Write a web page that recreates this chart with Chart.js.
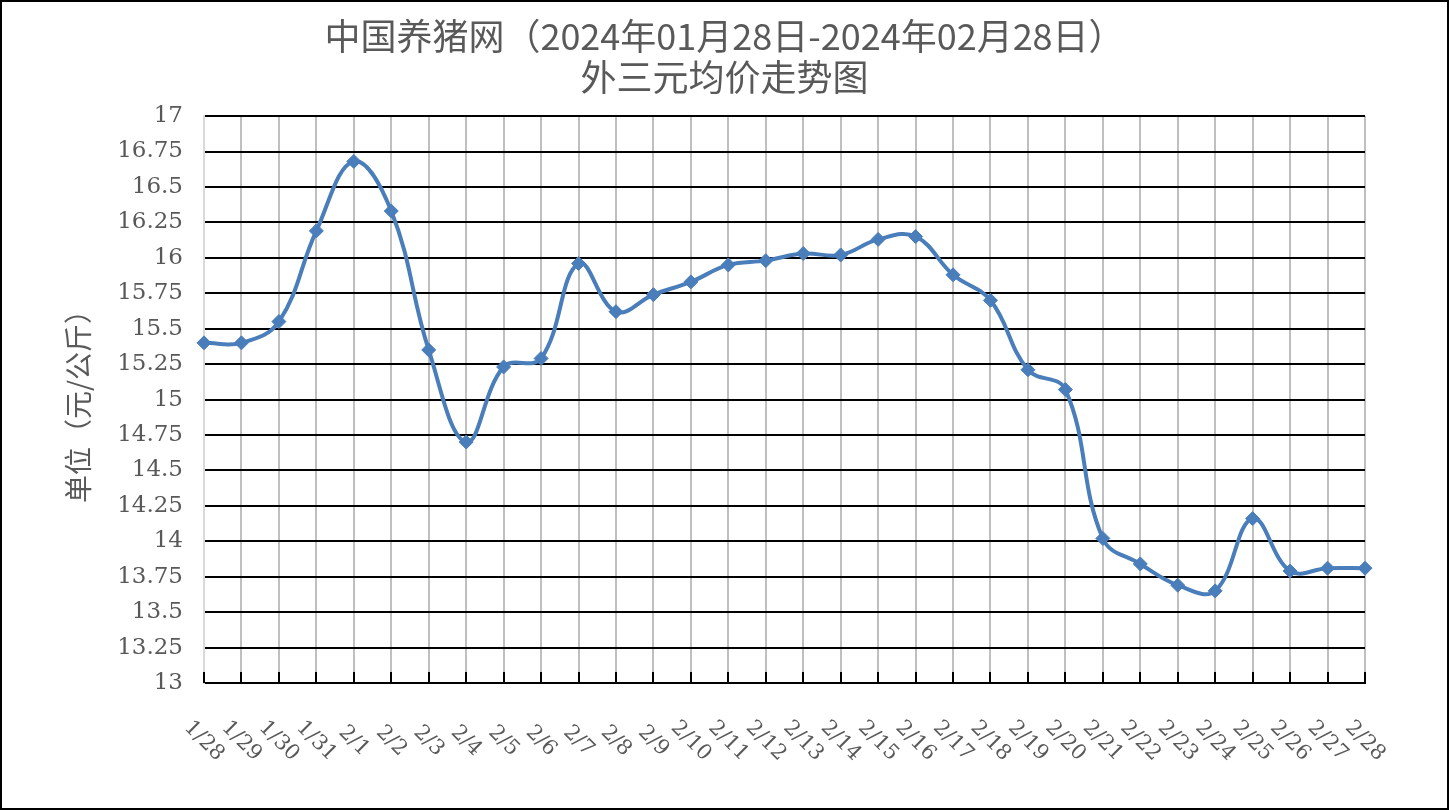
<!DOCTYPE html>
<html lang="zh-CN">
<head>
  <meta charset="UTF-8" />
  <title>外三元均价走势图</title>
  <script src="https://cdn.jsdelivr.net/npm/chart.js"></script>
  <style>
    html, body { margin: 0; padding: 0; background: #fff; }
    canvas { display: block; }
  </style>
</head>
<body>
  <canvas id="grafica" width="1449" height="810"></canvas>

  <script>
    // datos
    const fechas = ['1/28','1/29','1/30','1/31',
      '2/1','2/2','2/3','2/4','2/5','2/6','2/7','2/8','2/9','2/10',
      '2/11','2/12','2/13','2/14','2/15','2/16','2/17','2/18','2/19','2/20',
      '2/21','2/22','2/23','2/24','2/25','2/26','2/27','2/28'];
    const precios = [15.40, 15.40, 15.55, 16.19,
      16.68, 16.33, 15.35, 14.70, 15.23, 15.29, 15.96, 15.62, 15.74, 15.83,
      15.95, 15.98, 16.03, 16.02, 16.13, 16.15, 15.88, 15.70, 15.21, 15.07,
      14.02, 13.84, 13.69, 13.65, 14.16, 13.79, 13.81, 13.81];
    const tituloLineas = ['中国养猪网（2024年01月28日-2024年02月28日）', '外三元均价走势图'];
    const tituloY = '单位（元/公斤）';
    const yMin = 13, yMax = 17, yPaso = 0.25;

    const gris = '#595959';
    const azul = '#4A7EBB';
    const serif = '"DejaVu Serif", "Liberation Serif", serif';
    const cjk = '"Noto Sans CJK SC", sans-serif';

    // fondo blanco, marco negro, marcas hacia dentro y etiquetas giradas del eje x
    const extras = {
      id: 'extras',
      beforeDraw(chart) {
        const ctx = chart.ctx;
        ctx.save();
        ctx.fillStyle = '#fff';
        ctx.fillRect(0, 0, chart.width, chart.height);
        ctx.restore();
      },
      afterDraw(chart) {
        const ctx = chart.ctx;
        const xs = chart.scales.x;
        const abajo = chart.chartArea.bottom;
        ctx.save();
        ctx.strokeStyle = '#000';
        ctx.lineWidth = 2;
        fechas.forEach((f, i) => {
          const x = Math.round(xs.getPixelForTick(i));
          ctx.beginPath();
          ctx.moveTo(x, abajo - 11);
          ctx.lineTo(x, abajo);
          ctx.stroke();
        });
        ctx.fillStyle = gris;
        ctx.font = '21px ' + serif;
        ctx.textAlign = 'center';
        ctx.textBaseline = 'middle';
        fechas.forEach((f, i) => {
          const x = xs.getPixelForTick(i);
          ctx.save();
          ctx.translate(x, abajo + 58);
          ctx.rotate(Math.PI / 4);
          ctx.fillText(f, 0, 0);
          ctx.restore();
        });
        ctx.strokeRect(1, 1, chart.width - 2, chart.height - 2);
        ctx.restore();
      }
    };

    new Chart(document.getElementById('grafica'), {
      type: 'line',
      data: {
        labels: fechas,
        datasets: [{
          data: precios,
          borderColor: azul,
          backgroundColor: azul,
          borderWidth: 4,
          tension: 0.4,
          pointStyle: 'rectRot',
          pointRadius: 7,
          pointBorderWidth: 1,
          clip: false
        }]
      },
      options: {
        responsive: false,
        animation: false,
        layout: { padding: 0 },
        plugins: {
          legend: { display: false },
          tooltip: { enabled: false },
          title: {
            display: true,
            text: tituloLineas,
            color: gris,
            font: { family: cjk, size: 36, weight: 'normal', lineHeight: 1.14 },
            padding: { top: 16, bottom: 18 }
          }
        },
        scales: {
          x: {
            offset: false,
            afterFit(s) { s.height = 127; },
            grid: {
              color: c => c.index === 0 ? '#D9D9D9' : '#BFBFBF',
              lineWidth: 2,
              drawTicks: false
            },
            border: { color: '#000', width: 2 },
            ticks: { display: false }
          },
          y: {
            min: yMin,
            max: yMax,
            afterFit(s) { s.width = 204; },
            grid: { color: '#000', lineWidth: 2, drawTicks: false },
            border: { color: '#D9D9D9', width: 2 },
            ticks: {
              stepSize: yPaso,
              padding: 21,
              color: gris,
              font: { family: serif, size: 23 },
              callback: v => String(Number(v.toFixed(2)))
            },
            title: {
              display: true,
              text: tituloY,
              color: gris,
              font: { family: cjk, size: 28, weight: 'normal' },
              padding: { top: 62, bottom: 0 }
            }
          },
          // eje vacío a la derecha: sólo reserva el margen
          derecha: {
            position: 'right',
            min: yMin,
            max: yMax,
            afterFit(s) { s.width = 84; },
            grid: { display: false, drawTicks: false },
            border: { display: false },
            ticks: { display: false }
          }
        }
      },
      plugins: [extras]
    });
  </script>
</body>
</html>
